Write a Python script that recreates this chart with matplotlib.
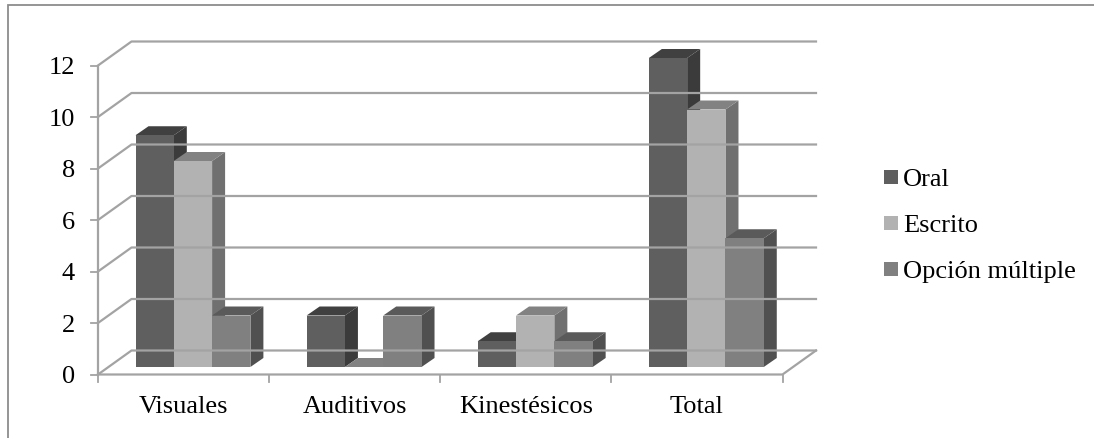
#!/usr/bin/env python3

import matplotlib
matplotlib.use("Agg")
import matplotlib.pyplot as plt
from matplotlib.patches import Polygon, Rectangle

categories = ["Visuales", "Auditivos", "Kinestésicos", "Total"]
series_names = ["Oral", "Escrito", "Opción múltiple"]
oral = [9, 2, 1, 12]
escrito = [8, 0, 2, 10]
opcion = [2, 2, 1, 5]
y_ticks = [0, 2, 4, 6, 8, 10, 12]

front_cols = ["#5f5f5f", "#b2b2b2", "#808080"]
top_cols = ["#404040", "#828282", "#5a5a5a"]
side_cols = ["#3b3b3b", "#707070", "#505050"]
grid_col = "#a3a3a3"
font = "Liberation Serif"

# everything is laid out in image pixels, y going down
fig = plt.figure(figsize=(10.94, 4.39), dpi=100)
ax = fig.add_axes([0, 0, 1, 1])
ax.set_xlim(0, 1094)
ax.set_ylim(439, 0)
ax.axis("off")

x0, x1 = 98, 782.5
y_zero, unit = 375.5, 25.75
dx, dy = 33.5, 24
cat_w = (x1 - x0) / len(categories)
bar_w = 38.3
bar_off = 37.5
base_y = 368
bar_dx, bar_dy = 13, 9


def front_y(v):
    return y_zero - v * unit


def bar_y(v):
    return base_y - v * unit


# outer frame, only top and left show
ax.plot([1094, 8, 8], [6, 6, 439], color="#8c8c8c", lw=1.3, solid_joinstyle="miter")

# walls and grid
for v in y_ticks:
    y = front_y(v)
    ax.plot([x0, x0 + dx, x1 + dx], [y, y - dy, y - dy], color=grid_col, lw=1.6)
    ax.plot([x0 - 7, x0], [y, y], color=grid_col, lw=1.3)
    ax.text(x0 - 23, y + 2, str(v), ha="right", va="center", family=font, fontsize=19, color="black")
ax.plot([x0, x0], [front_y(y_ticks[-1]), y_zero], color=grid_col, lw=1.6)
ax.plot([x0, x1, x1 + dx], [y_zero, y_zero, y_zero - dy], color=grid_col, lw=1.6)

for i in range(len(categories) + 1):
    x = x0 + i * cat_w
    ax.plot([x, x], [y_zero, y_zero + 7], color=grid_col, lw=1.3)

# bars, later ones cover the side of earlier ones
for i, cat in enumerate(categories):
    ax.text(x0 + (i + 0.5) * cat_w, 407, cat, ha="center", va="center", family=font, fontsize=19, color="black")
    for j, values in enumerate([oral, escrito, opcion]):
        v = values[i]
        left = x0 + i * cat_w + bar_off + j * bar_w
        right = left + bar_w
        top = bar_y(v)
        ax.add_patch(Polygon([(right, base_y), (right + bar_dx, base_y - bar_dy),
                              (right + bar_dx, top - bar_dy), (right, top)],
                             closed=True, fc=side_cols[j], ec="none"))
        ax.add_patch(Polygon([(left, top), (left + bar_dx, top - bar_dy),
                              (right + bar_dx, top - bar_dy), (right, top)],
                             closed=True, fc=top_cols[j], ec="none"))
        ax.add_patch(Rectangle((left, top), bar_w, base_y - top, fc=front_cols[j], ec="none"))

# legend
for k, name in enumerate(series_names):
    yc = 178 + k * 46
    ax.add_patch(Rectangle((884, yc - 7), 14, 14, fc=front_cols[k], ec="none"))
    ax.text(903, yc + 2, name, ha="left", va="center", family=font, fontsize=19, color="black")

fig.savefig("out.png", dpi=100)
